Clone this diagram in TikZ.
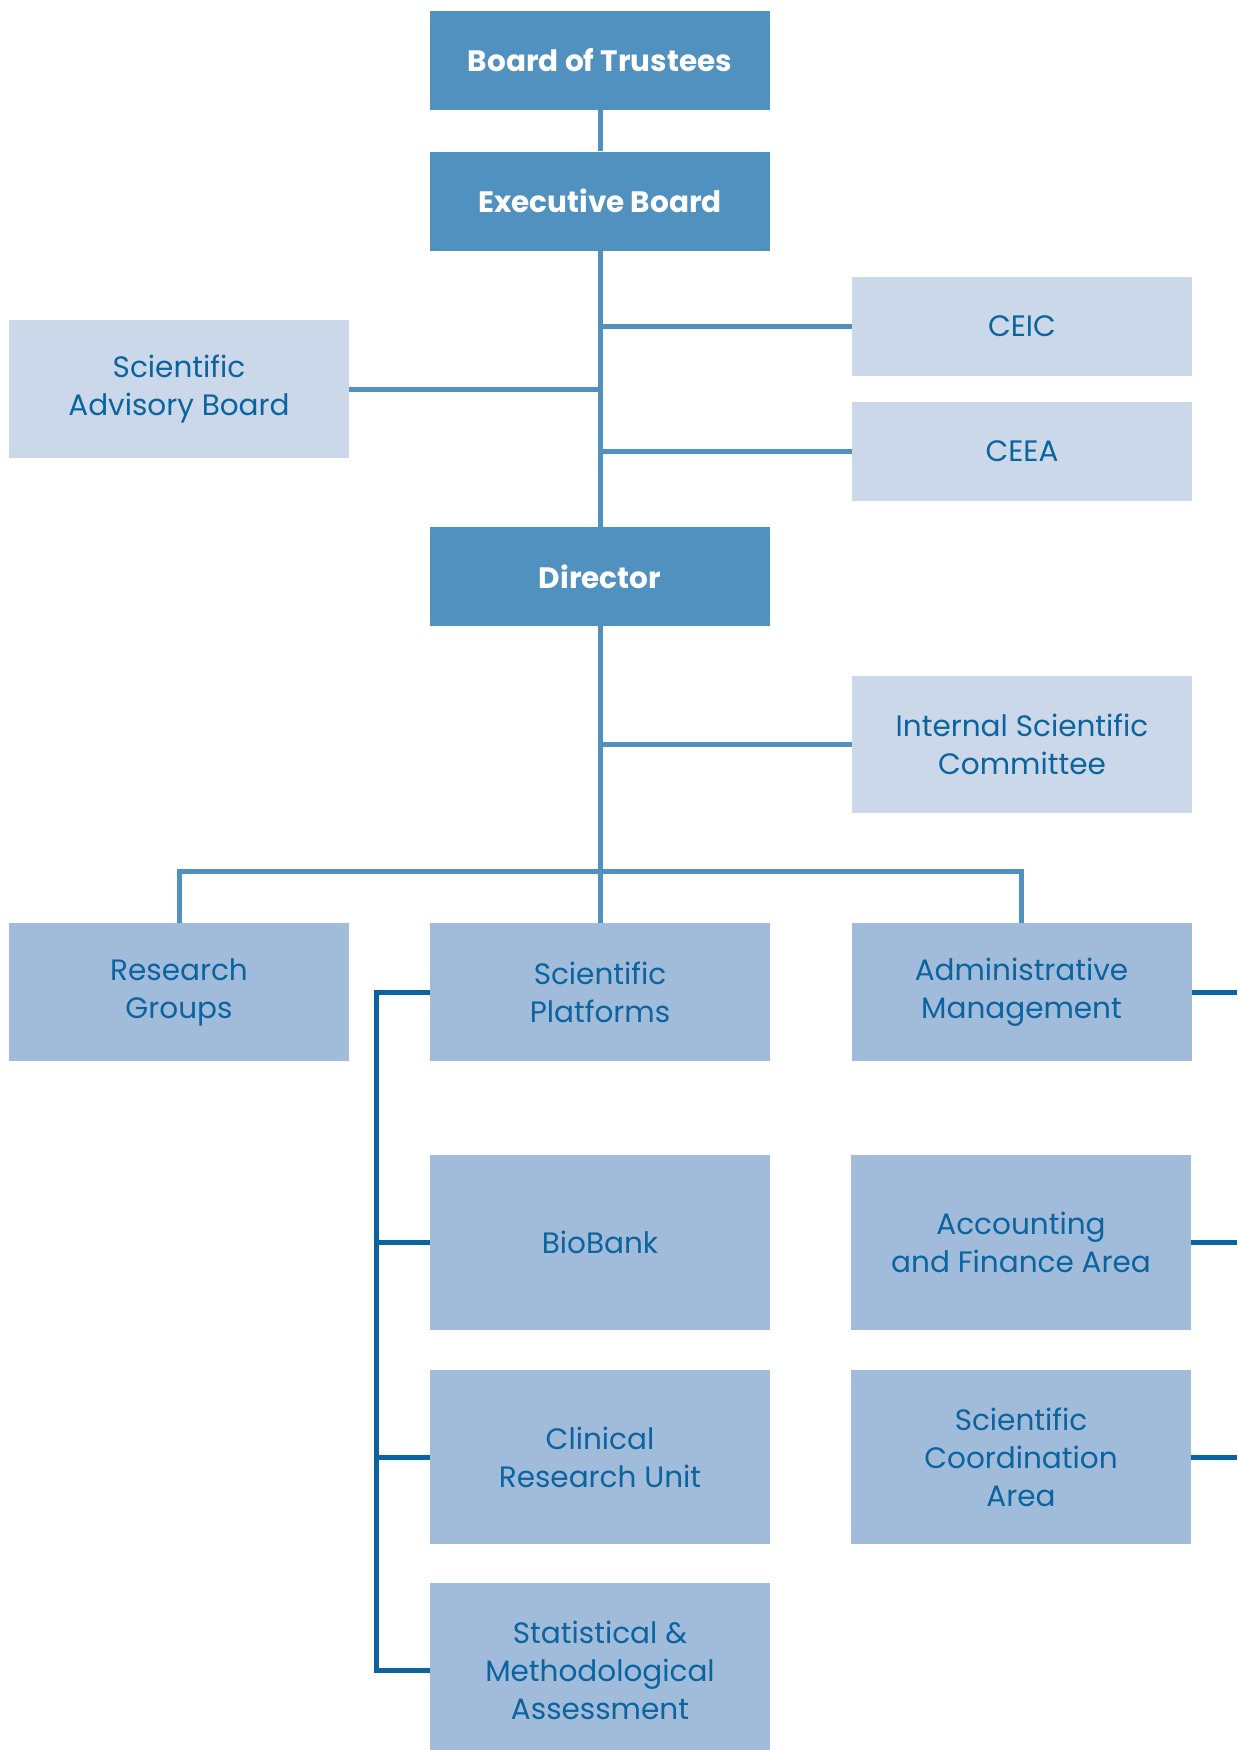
\documentclass[tikz,border=0pt]{standalone}
\usepackage{fontspec}
\setmainfont{Poppins}
\usetikzlibrary{positioning, calc}

\definecolor{topblue}{HTML}{5191BF}
\definecolor{paleblue}{HTML}{CBD8E9}
\definecolor{midblue}{HTML}{A1BCDA}
\definecolor{inkblue}{HTML}{0B649F}

\begin{document}
\begin{tikzpicture}[x=1pt, y=-1pt,
    every node/.style={font=\fontsize{29.5}{38}\selectfont, align=center, inner sep=0pt},
    headbox/.style={fill=topblue, text=white, font=\fontsize{29.5}{38}\selectfont\bfseries, minimum width=340, minimum height=99},
    sidebox/.style={fill=paleblue, text=inkblue, minimum width=340},
    unitbox/.style={fill=midblue, text=inkblue, minimum width=340},
    trunk/.style={draw=topblue, line width=5pt},
    branch/.style={draw=inkblue, line width=5pt}]
    % Page frame
    \useasboundingbox (0,0) rectangle (1237,1750);
    % Governing bodies
    \node[headbox] (trustees) at (600,60.5) {Board of Trustees};
    \node[headbox] (executive) at (600,201) {Executive Board};
    \node[headbox] (director) at (600,576.5) {Director};
    % Committees
    \node[sidebox, minimum height=138] (advisory) at (179,389) {Scientific\\Advisory Board};
    \node[sidebox, minimum height=99] (ceic) at (1022,326.5) {CEIC};
    \node[sidebox, minimum height=99] (ceea) at (1022,451.5) {CEEA};
    \node[sidebox, minimum height=137] (internal) at (1022,744.5) {Internal Scientific\\Committee};
    % Units
    \node[unitbox, minimum height=138] (research) at (179,992) {Research\\Groups};
    \node[unitbox, minimum height=138] (platforms) at (600,992) {Scientific\\Platforms};
    \node[unitbox, minimum height=138] (admin) at (1021.5,992) {Administrative\\Management};
    % Platforms
    \node[unitbox, minimum height=175] (biobank) at (600,1242.5) {BioBank};
    \node[unitbox, minimum height=174] (clinical) at (600,1457) {Clinical\\Research Unit};
    \node[unitbox, minimum height=174] (stats) at (600,1670) {Statistical \&\\Methodological\\Assessment};
    % Areas
    \node[unitbox, minimum height=175] (finance) at (1021,1242.5) {Accounting\\and Finance Area};
    \node[unitbox, minimum height=174] (coord) at (1021,1457) {Scientific\\Coordination\\Area};

    % Helper points
    \coordinate (bus) at (600,871);
    \coordinate (rail) at (376,1670);
    \coordinate (edge) at (1237,992);

    % Trunk
    \draw[trunk] (trustees) -- (executive);
    \draw[trunk] (executive) -- (director);
    \draw[trunk] (advisory.east) -- (advisory.east -| executive);
    \draw[trunk] (ceic.west) -- (ceic.west -| executive);
    \draw[trunk] (ceea.west) -- (ceea.west -| executive);
    \draw[trunk] (director) -- (platforms);
    \draw[trunk] (internal.west) -- (internal.west -| director);
    \draw[trunk] (research.north) |- (bus) -| (admin.north);

    % Platform rail
    \draw[branch] (platforms.west) -| (rail) -- (stats.west);
    \foreach \u in {biobank, clinical}
    {
        \draw[branch] (\u.west) -- (\u.west -| rail);
    }
    % Area stubs
    \foreach \u in {admin, finance, coord}
    {
        \draw[branch] (\u.east) -- (\u.east -| edge);
    }
\end{tikzpicture}
\end{document}
